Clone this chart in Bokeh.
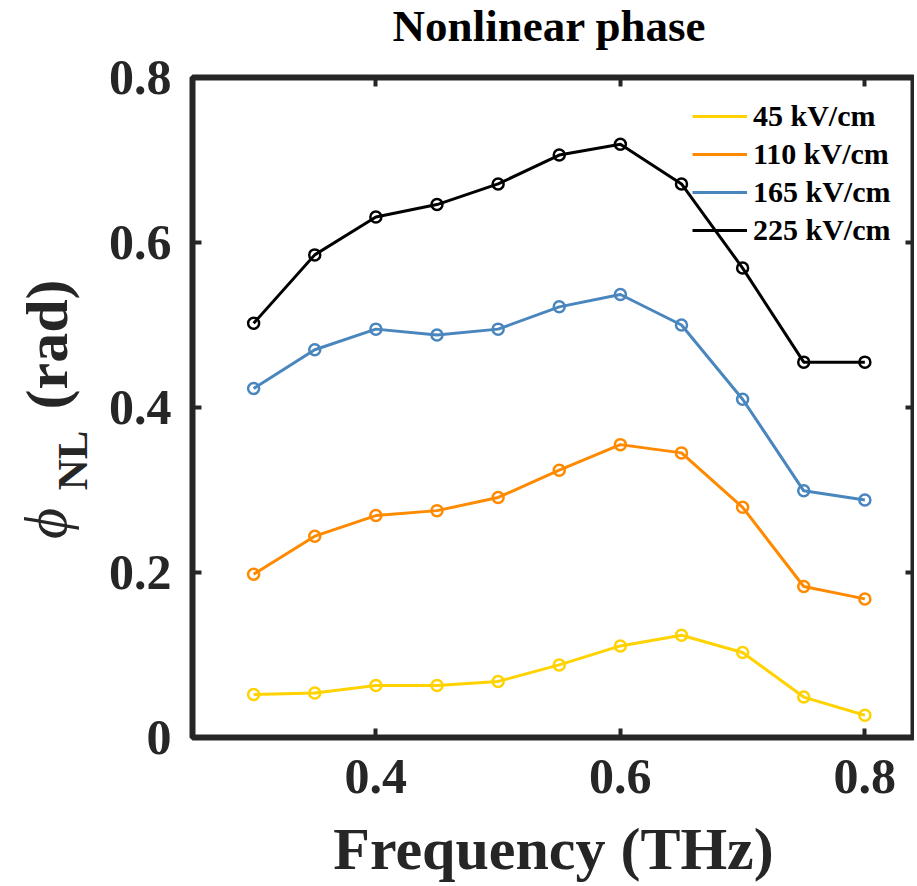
import math
from bokeh.plotting import figure
from bokeh.models import (Range1d, FixedTicker, LinearAxis, Legend, LegendItem,
                          PrintfTickFormatter)
from bokeh.core.properties import value
from bokeh.layouts import row, column
from bokeh.embed import file_html
from bokeh.resources import INLINE

# ---- data ----
freq = [0.30, 0.35, 0.40, 0.45, 0.50, 0.55, 0.60, 0.65, 0.70, 0.75, 0.80]
phi_45 = [0.052, 0.054, 0.063, 0.063, 0.068, 0.088, 0.111, 0.124, 0.103, 0.049, 0.027]
phi_110 = [0.198, 0.244, 0.269, 0.275, 0.291, 0.324, 0.355, 0.345, 0.279, 0.183, 0.168]
phi_165 = [0.423, 0.470, 0.495, 0.488, 0.495, 0.522, 0.537, 0.500, 0.410, 0.299, 0.288]
phi_225 = [0.502, 0.585, 0.631, 0.646, 0.671, 0.706, 0.719, 0.671, 0.569, 0.455, 0.455]
series_labels = ["45 kV/cm", "110 kV/cm", "165 kV/cm", "225 kV/cm"]
series_colors = ["#FFD200", "#FF8A00", "#4A86BE", "#000000"]
x_ticks = [0.4, 0.6, 0.8]
y_ticks = [0.0, 0.2, 0.4, 0.6, 0.8]
title_text = "Nonlinear phase"
x_label = "Frequency (THz)"

FONT = "Liberation Serif"
AX = "#262626"
W = 917
TOP_H = 50          # height of the title strip
LEFT_W = 104        # width of the y-label strip
FRAME_TOP = 77      # canvas y of the frame top
FRAME_H = 660
FRAME_BOTTOM = FRAME_TOP + FRAME_H

# ---- title strip ----
tf = figure(frame_width=W, frame_height=TOP_H, output_backend="svg",
            toolbar_location=None, title=None,
            x_range=Range1d(0, W), y_range=Range1d(0, TOP_H),
            x_axis_type=None, y_axis_type=None, min_border=0)
tf.grid.visible = False
tf.outline_line_color = None
tf.background_fill_color = "white"
tf.border_fill_color = "white"
tf.text(x=[549], y=[TOP_H - 25], text=[title_text],
        text_font=value(FONT), text_font_style="bold", text_font_size="45px",
        text_color="black", text_align="center", text_baseline="middle")

# ---- main plot ----
p = figure(frame_width=722, frame_height=FRAME_H, output_backend="svg",
           toolbar_location=None, title=None, x_range=Range1d(0.25, 0.8406),
           y_range=Range1d(0, 0.8),
           min_border_left=192 - LEFT_W, min_border_right=0,
           min_border_top=FRAME_TOP - TOP_H, min_border_bottom=149)
p.background_fill_color = "white"
p.border_fill_color = "white"
p.grid.visible = False
p.outline_line_color = AX
p.outline_line_width = 6

renderers = []
for vals, col in zip([phi_45, phi_110, phi_165, phi_225], series_colors):
    r = p.line(freq, vals, line_color=col, line_width=3)
    p.scatter(freq, vals, marker="circle", size=11, fill_color=None,
              line_color=col, line_width=2.5)
    renderers.append(r)

def style_axis(ax, show_labels=True):
    ax.axis_line_color = None
    ax.major_tick_in = 9
    ax.major_tick_out = 0
    ax.minor_tick_in = 0
    ax.minor_tick_out = 0
    ax.major_tick_line_color = AX
    ax.major_tick_line_width = 4
    ax.major_label_text_font = FONT
    ax.major_label_text_font_style = "bold"
    ax.major_label_text_color = AX
    ax.major_label_text_font_size = "50px"
    if not show_labels:
        ax.major_label_text_font_size = "1px"
        ax.major_label_text_alpha = 0
        ax.major_label_standoff = 0

xa = p.xaxis[0]
ya = p.yaxis[0]
style_axis(xa)
style_axis(ya)
xa.ticker = FixedTicker(ticks=x_ticks)
ya.ticker = FixedTicker(ticks=y_ticks)
xa.formatter = PrintfTickFormatter(format="%.1f")
ya.formatter = PrintfTickFormatter(format="%.1f")
ya.major_label_overrides = {0: "0"}
xa.major_label_standoff = 22
ya.major_label_standoff = 21
xa.axis_label = x_label
xa.axis_label_text_font = FONT
xa.axis_label_text_font_style = "bold"
xa.axis_label_text_font_size = "60px"
xa.axis_label_text_color = AX
xa.axis_label_standoff = 20

top = LinearAxis(ticker=FixedTicker(ticks=x_ticks))
right = LinearAxis(ticker=FixedTicker(ticks=y_ticks))
style_axis(top, False)
style_axis(right, False)
p.add_layout(top, "above")
p.add_layout(right, "right")

items = [LegendItem(label=lab, renderers=[r]) for lab, r in zip(series_labels, renderers)]
legend = Legend(items=items, location=(500, 488), padding=0, margin=0,
                spacing=0, glyph_width=55, glyph_height=38, label_height=38,
                label_standoff=6, border_line_alpha=0, background_fill_alpha=0,
                label_text_font=FONT, label_text_font_style="bold",
                label_text_font_size="30px", label_text_color="black")
p.add_layout(legend)

# ---- y-axis label strip: phi_NL (rad); its frame is aligned with p's frame ----
lf = figure(frame_width=LEFT_W, frame_height=FRAME_H, output_backend="svg",
            toolbar_location=None, title=None,
            x_range=Range1d(0, LEFT_W), y_range=Range1d(0, FRAME_H),
            x_axis_type=None, y_axis_type=None, min_border=0)
lf.grid.visible = False
lf.outline_line_color = None
lf.background_fill_color = "white"
lf.border_fill_color = "white"
lf.text(x=[45], y=[FRAME_BOTTOM - 523], text=["\u03d5"], angle=math.pi / 2,
        text_font=value(FONT), text_font_style="italic", text_font_size="60px",
        text_color=AX, text_align="center", text_baseline="middle")
lf.text(x=[72], y=[FRAME_BOTTOM - 460], text=["NL"], angle=math.pi / 2,
        text_font=value(FONT), text_font_style="bold", text_font_size="43px",
        text_color=AX, text_align="center", text_baseline="middle")
lf.text(x=[46], y=[FRAME_BOTTOM - 344], text=["(rad)"], angle=math.pi / 2,
        text_font=value(FONT), text_font_style="bold", text_font_size="60px",
        text_color=AX, text_align="center", text_baseline="middle")

layout = column(tf, row(lf, p))
open("out.html", "w").write(file_html(layout, INLINE))
